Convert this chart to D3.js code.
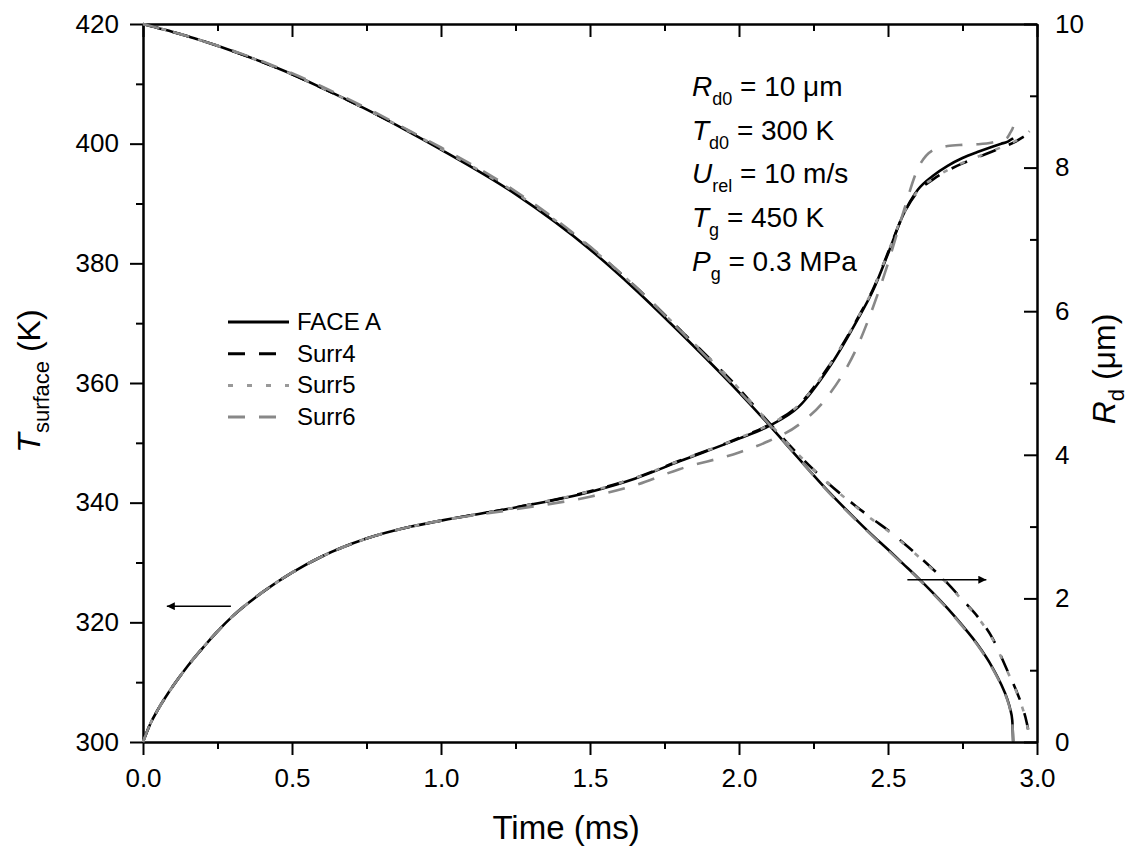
<!DOCTYPE html>
<html>
<head>
<meta charset="utf-8">
<script src="https://d3js.org/d3.v7.min.js"></script>
<style>
    body { margin: 0; background: #fff; }
    svg { font-family: "Liberation Sans", Arial, sans-serif; }
    .axis path, .axis line { stroke: #000; stroke-width: 2px; }
    .axis text { font-size: 26px; fill: #000; }
    .curve { fill: none; stroke-width: 2.6px; }
</style>
</head>
<body>
<script>
// time grids (ms)
const timeA = [0, 0.025, 0.05, 0.1, 0.15, 0.2, 0.25, 0.3, 0.4, 0.5, 0.6, 0.75, 0.9, 1.0, 1.25, 1.5, 1.65, 1.8, 2.0, 2.1, 2.2, 2.3, 2.4, 2.45, 2.5, 2.55, 2.6, 2.65, 2.7, 2.75, 2.8, 2.85, 2.88, 2.9, 2.91, 2.917, 2.92];
const timeB = [0, 0.025, 0.05, 0.1, 0.15, 0.2, 0.25, 0.3, 0.4, 0.5, 0.6, 0.75, 0.9, 1.0, 1.25, 1.5, 1.65, 1.8, 2.0, 2.1, 2.2, 2.3, 2.4, 2.45, 2.5, 2.55, 2.6, 2.65, 2.7, 2.75, 2.8, 2.85, 2.9, 2.93, 2.95, 2.965, 2.971, 2.975];

// surface temperature (K)
const tempFaceA = [300, 303.1, 305.4, 309.3, 312.7, 315.7, 318.5, 321.0, 325.0, 328.3, 331.0, 334.0, 336.0, 337.0, 339.2, 341.8, 344.0, 346.9, 350.7, 352.8, 356.0, 362.4, 370.8, 375.5, 381.6, 388.0, 392.3, 394.6, 396.3, 397.6, 398.6, 399.5, 400.0, 400.3, 400.6, 400.8, 400.9];
const tempSurr4 = [300, 303.1, 305.4, 309.3, 312.7, 315.7, 318.5, 321.0, 325.0, 328.3, 331.0, 334.0, 336.0, 337.0, 339.2, 341.9, 344.1, 347.0, 350.8, 353.0, 356.3, 362.7, 371.0, 375.7, 381.8, 388.0, 392.0, 394.0, 395.5, 396.7, 397.7, 398.7, 399.7, 400.4, 401.0, 401.5, 401.8, 402.0];
const tempSurr5 = [300, 303.1, 305.4, 309.3, 312.7, 315.7, 318.5, 321.0, 325.0, 328.3, 331.0, 334.0, 336.0, 337.0, 339.2, 341.9, 344.1, 347.0, 350.8, 353.0, 356.3, 362.7, 371.0, 375.7, 381.8, 388.1, 392.1, 394.1, 395.6, 396.8, 397.8, 398.8, 399.8, 400.5, 401.1, 401.6, 401.9, 402.1];
const tempSurr6 = [300, 303.1, 305.4, 309.3, 312.7, 315.7, 318.5, 321.0, 325.0, 328.3, 331.0, 334.0, 336.0, 337.0, 338.9, 341.0, 342.9, 345.6, 348.4, 350.3, 353.0, 357.9, 366.4, 372.7, 380.0, 388.3, 395.8, 398.9, 399.6, 399.8, 399.9, 400.2, 400.6, 401.0, 401.8, 402.4, 402.8];

// droplet radius (um)
const radFaceA = [10, 9.973, 9.945, 9.89, 9.83, 9.765, 9.697, 9.625, 9.47, 9.30, 9.11, 8.81, 8.48, 8.25, 7.63, 6.86, 6.31, 5.71, 4.87, 4.42, 3.95, 3.49, 3.07, 2.87, 2.68, 2.485, 2.29, 2.08, 1.86, 1.62, 1.36, 1.04, 0.8, 0.6, 0.46, 0.3, 0];
const radSurr4 = [10, 9.973, 9.945, 9.89, 9.83, 9.765, 9.697, 9.625, 9.47, 9.30, 9.11, 8.81, 8.49, 8.26, 7.65, 6.89, 6.35, 5.75, 4.92, 4.45, 4.0, 3.6, 3.26, 3.1, 2.95, 2.78, 2.6, 2.41, 2.21, 1.98, 1.75, 1.45, 1.0, 0.72, 0.5, 0.28, 0.15, 0];
const radSurr5 = [10, 9.973, 9.945, 9.89, 9.83, 9.765, 9.697, 9.625, 9.47, 9.30, 9.11, 8.81, 8.49, 8.26, 7.65, 6.89, 6.35, 5.75, 4.92, 4.45, 4.0, 3.6, 3.25, 3.09, 2.94, 2.77, 2.59, 2.4, 2.2, 1.97, 1.74, 1.44, 0.99, 0.71, 0.49, 0.27, 0.14, 0];
const radSurr6 = [10, 9.973, 9.945, 9.89, 9.83, 9.765, 9.7, 9.63, 9.48, 9.315, 9.13, 8.83, 8.5, 8.28, 7.67, 6.9, 6.35, 5.74, 4.89, 4.43, 3.95, 3.48, 3.06, 2.86, 2.67, 2.475, 2.28, 2.07, 1.85, 1.61, 1.35, 1.03, 0.79, 0.59, 0.45, 0.29, 0];

const seriesNames = ["FACE A", "Surr4", "Surr5", "Surr6"];

// axis ticks
const timeTicks = [0, 0.5, 1.0, 1.5, 2.0, 2.5, 3.0];
const tempTicks = [300, 320, 340, 360, 380, 400, 420];
const radTicks = [0, 2, 4, 6, 8, 10];

const width = 1135, height = 855;
const plotL = 143, plotR = 1037, plotT = 24, plotB = 742;

const svg = d3.select("body").append("svg")
    .attr("width", width)
    .attr("height", height);

const x = d3.scaleLinear().domain([0, 3]).range([plotL, plotR]);
const yT = d3.scaleLinear().domain([300, 420]).range([plotB, plotT]);
const yR = d3.scaleLinear().domain([0, 10]).range([plotB, plotT]);

function mids(t) {
    let m = [];
    for (let i = 0; i < t.length - 1; i++) m.push((t[i] + t[i + 1]) / 2);
    return m;
}

// minor ticks
svg.append("g").attr("class", "axis").attr("transform", "translate(0," + plotB + ")")
    .call(d3.axisBottom(x).tickValues(mids(timeTicks)).tickSize(7).tickSizeOuter(0).tickFormat(""));
svg.append("g").attr("class", "axis").attr("transform", "translate(0," + plotT + ")")
    .call(d3.axisTop(x).tickValues(mids(timeTicks)).tickSize(-7).tickSizeOuter(0).tickFormat(""));
svg.append("g").attr("class", "axis").attr("transform", "translate(" + plotL + ",0)")
    .call(d3.axisLeft(yT).tickValues(mids(tempTicks)).tickSize(7).tickSizeOuter(0).tickFormat(""));
svg.append("g").attr("class", "axis").attr("transform", "translate(" + plotR + ",0)")
    .call(d3.axisRight(yR).tickValues(mids(radTicks)).tickSize(-7).tickSizeOuter(0).tickFormat(""));

// major axes
svg.append("g").attr("class", "axis").attr("transform", "translate(0," + plotB + ")")
    .call(d3.axisBottom(x).tickValues(timeTicks).tickSize(13).tickSizeOuter(0).tickPadding(14).tickFormat(d3.format(".1f")));
svg.append("g").attr("class", "axis").attr("transform", "translate(0," + plotT + ")")
    .call(d3.axisTop(x).tickValues(timeTicks).tickSize(-13).tickSizeOuter(0).tickFormat(""));
svg.append("g").attr("class", "axis").attr("transform", "translate(" + plotL + ",0)")
    .call(d3.axisLeft(yT).tickValues(tempTicks).tickSize(13).tickSizeOuter(0).tickPadding(11));
svg.append("g").attr("class", "axis").attr("transform", "translate(" + plotR + ",0)")
    .call(d3.axisRight(yR).tickValues(radTicks).tickSize(-13).tickSizeOuter(0).tickPadding(18));

// curves
const styles = {
    "FACE A": { stroke: "#000", dash: null },
    "Surr4": { stroke: "#000", dash: "17,14" },
    "Surr5": { stroke: "#999", dash: "5,14" },
    "Surr6": { stroke: "#888", dash: "17,14" }
};
const table = [
    { name: "FACE A", time: timeA, temp: tempFaceA, rad: radFaceA },
    { name: "Surr4", time: timeB, temp: tempSurr4, rad: radSurr4 },
    { name: "Surr5", time: timeB, temp: tempSurr5, rad: radSurr5 },
    { name: "Surr6", time: timeA, temp: tempSurr6, rad: radSurr6 }
];

const lineT = d3.line().curve(d3.curveMonotoneX)
    .x(function (d) { return x(d[0]); })
    .y(function (d) { return yT(d[1]); });
const lineR = d3.line().curve(d3.curveMonotoneX)
    .x(function (d) { return x(d[0]); })
    .y(function (d) { return yR(d[1]); });

table.forEach(function (s) {
    let st = styles[s.name];
    svg.append("path").attr("class", "curve")
        .attr("d", lineT(d3.zip(s.time, s.temp)))
        .attr("stroke", st.stroke)
        .attr("stroke-dasharray", st.dash);
    svg.append("path").attr("class", "curve")
        .attr("d", lineR(d3.zip(s.time, s.rad)))
        .attr("stroke", st.stroke)
        .attr("stroke-dasharray", st.dash);
});

// arrows
svg.append("defs").append("marker")
    .attr("id", "head")
    .attr("viewBox", "0 0 10 10")
    .attr("refX", 10).attr("refY", 5)
    .attr("markerWidth", 12).attr("markerHeight", 8)
    .attr("markerUnits", "userSpaceOnUse")
    .attr("orient", "auto")
    .append("path").attr("d", "M0,0L10,5L0,10Z").attr("fill", "#000");

svg.append("line")
    .attr("x1", x(0.295)).attr("x2", x(0.08))
    .attr("y1", yT(322.7)).attr("y2", yT(322.7))
    .attr("stroke", "#000").attr("stroke-width", 1.5)
    .attr("marker-end", "url(#head)");
svg.append("line")
    .attr("x1", x(2.565)).attr("x2", x(2.83))
    .attr("y1", yR(2.26)).attr("y2", yR(2.26))
    .attr("stroke", "#000").attr("stroke-width", 1.5)
    .attr("marker-end", "url(#head)");

// legend
const legend = svg.append("g");
seriesNames.forEach(function (n, i) {
    let st = styles[n];
    let ly = 322 + i * 31.7;
    legend.append("line")
        .attr("x1", 228).attr("x2", 289)
        .attr("y1", ly).attr("y2", ly)
        .attr("stroke", st.stroke).attr("stroke-width", 3)
        .attr("stroke-dasharray", st.dash);
    legend.append("text")
        .attr("x", 297).attr("y", ly + 8)
        .attr("font-size", 24)
        .text(n);
});

// parameter block
function richText(g, px, py, parts, size, subSize) {
    let t = g.append("text").attr("x", px).attr("y", py).attr("font-size", size);
    let shift = 0;
    parts.forEach(function (p) {
        let ts = t.append("tspan").text(p.t);
        if (p.i) ts.attr("font-style", "italic");
        if (p.sub) {
            ts.attr("font-size", subSize).attr("dy", 9 - shift);
            shift = 9;
        } else if (shift) {
            ts.attr("dy", -shift);
            shift = 0;
        }
    });
    return t;
}

const params = [
    [{ t: "R", i: true }, { t: "d0", sub: true }, { t: " = 10 \u03bcm" }],
    [{ t: "T", i: true }, { t: "d0", sub: true }, { t: " = 300 K" }],
    [{ t: "U", i: true }, { t: "rel", sub: true }, { t: " = 10 m/s" }],
    [{ t: "T", i: true }, { t: "g", sub: true }, { t: " = 450 K" }],
    [{ t: "P", i: true }, { t: "g", sub: true }, { t: " = 0.3 MPa" }]
];
params.forEach(function (p, i) {
    richText(svg, 692, 96 + i * 43.7, p, 28, 18);
});

// axis titles
svg.append("text")
    .attr("x", 566).attr("y", 839)
    .attr("text-anchor", "middle")
    .attr("font-size", 33)
    .text("Time (ms)");

let lt = richText(svg, 0, 0, [{ t: "T", i: true }, { t: "surface", sub: true }, { t: " (K)" }], 32, 22);
lt.attr("text-anchor", "middle")
    .attr("transform", "translate(40,381) rotate(-90)");

let rt = richText(svg, 0, 0, [{ t: "R", i: true }, { t: "d", sub: true }, { t: " (\u03bcm)" }], 32, 22);
rt.attr("text-anchor", "middle")
    .attr("transform", "translate(1115,369) rotate(-90)");
</script>
</body>
</html>
